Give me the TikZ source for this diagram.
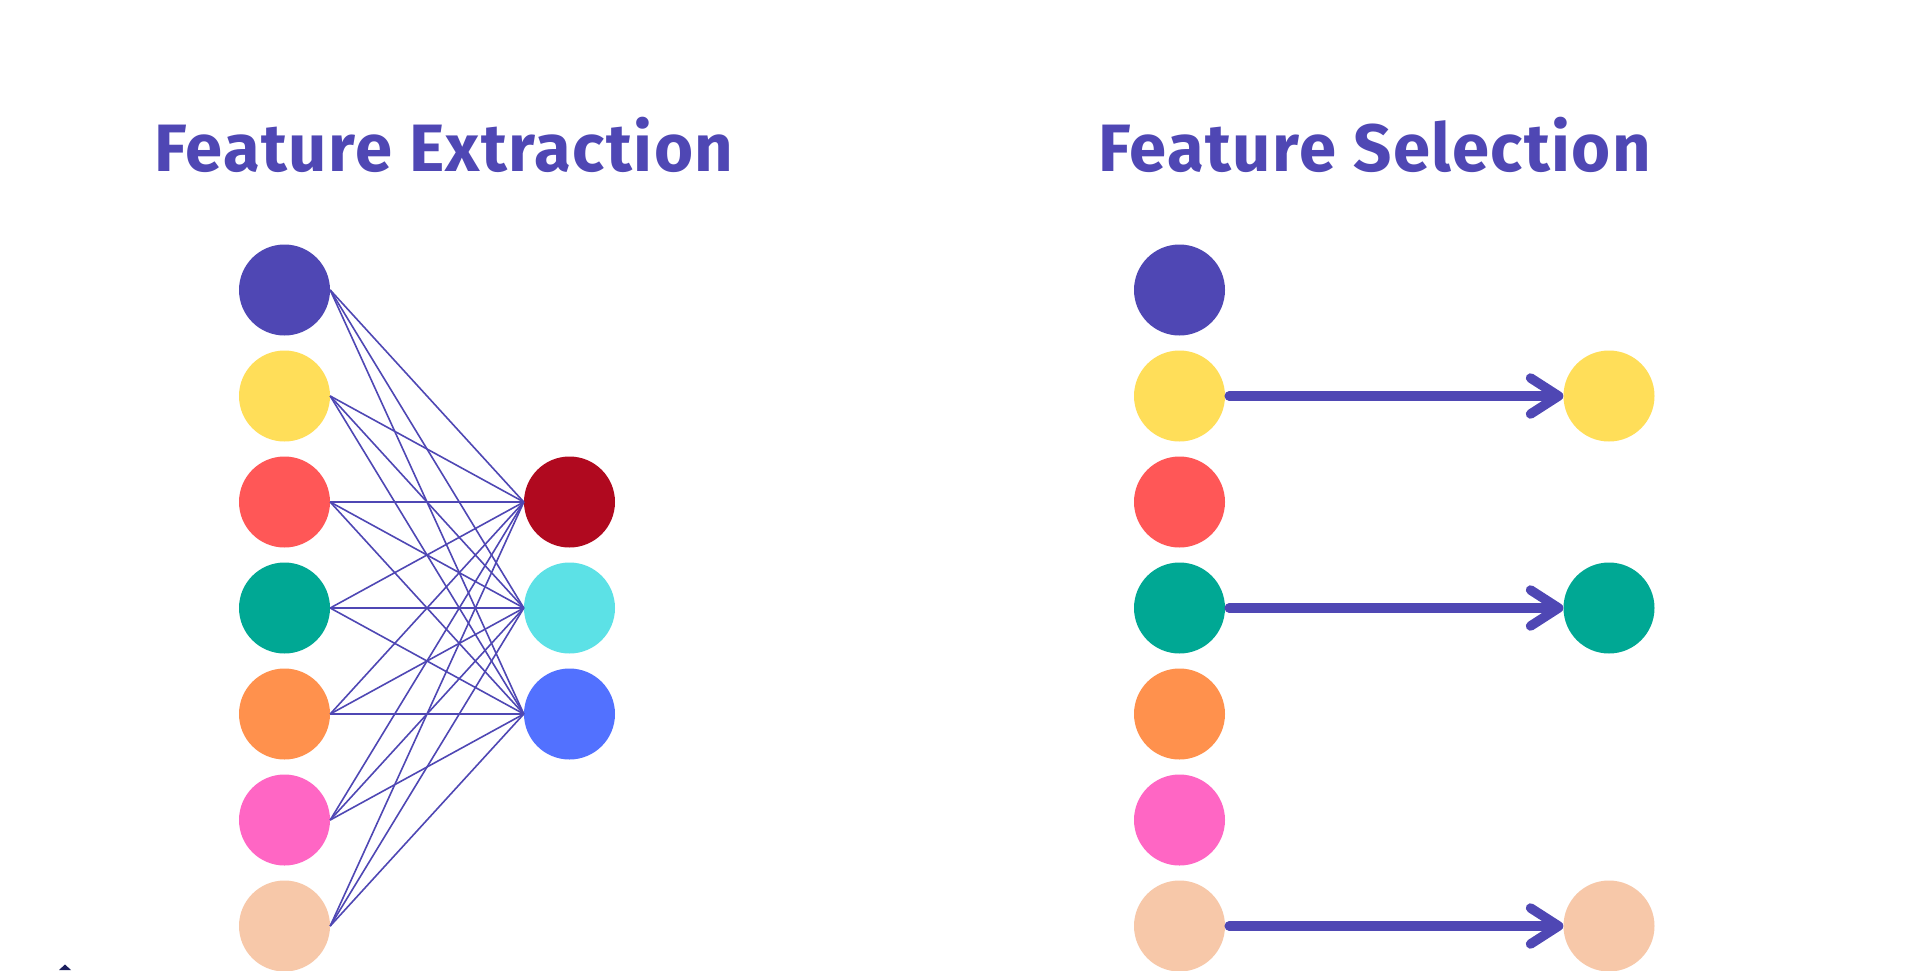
\documentclass[tikz,border=0pt]{standalone}
\usepackage{fontspec}
\setmainfont{Fira Sans}[LetterSpace=2.1]
\usetikzlibrary{arrows.meta}
\definecolor{purp}{HTML}{4F47B4}
\definecolor{cyel}{HTML}{FFDE59}
\definecolor{cred}{HTML}{FF5757}
\definecolor{cteal}{HTML}{00A894}
\definecolor{corange}{HTML}{FF914D}
\definecolor{cpink}{HTML}{FF66C4}
\definecolor{cpeach}{HTML}{F7C8A9}
\definecolor{cdred}{HTML}{B0091F}
\definecolor{ccyan}{HTML}{5CE1E6}
\definecolor{cblue}{HTML}{5271FF}
\definecolor{navy}{HTML}{1B1F5E}
\tikzset{
  dot/.style={circle, minimum size=91pt, inner sep=0pt, fill=#1},
  ttl/.style={anchor=base west, inner sep=0pt, text=purp, font=\fontsize{67}{67}\selectfont\bfseries},
  wire/.style={draw=purp, line width=1.6pt},
  selarrow/.style={draw=purp, line width=9.5pt, line cap=round,
    -{Straight Barb[length=28pt, width=36pt, line cap=round, line join=round]}}
}
\begin{document}
\begin{tikzpicture}[x=1pt,y=-1pt]
\useasboundingbox (0,0) rectangle (1920,970);
\fill[white] (0,0) rectangle (1920,970);
% titles
\node[ttl] (t1) at (154,171) {Feature Extraction};
\node[ttl] (t2) at (1098,171) {Feature Selection};
% extraction inputs
\foreach \i/\c/\y in {1/purp/290,2/cyel/396,3/cred/502,4/cteal/608,5/corange/714,6/cpink/820,7/cpeach/926}{
  \node[dot=\c] (L\i) at (284.5,\y) {};
}
\node[dot=cdred] (R1) at (569.5,502) {};
\node[dot=ccyan] (R2) at (569.5,608) {};
\node[dot=cblue] (R3) at (569.5,714) {};
\foreach \i in {1,...,7}{
  \foreach \j in {1,2,3}{
    \draw[wire] (L\i.east) -- (R\j.west);
  }
}
% selection
\foreach \i/\c/\y in {1/purp/290,2/cyel/396,3/cred/502,4/cteal/608,5/corange/714,6/cpink/820,7/cpeach/926}{
  \node[dot=\c] (S\i) at (1179.5,\y) {};
}
\node[dot=cyel] (P1) at (1609,396) {};
\node[dot=cteal] (P2) at (1609,608) {};
\node[dot=cpeach] (P3) at (1609,926) {};
\draw[selarrow] ([xshift=4pt]S2.east) -- (P1.west);
\draw[selarrow] ([xshift=4pt]S4.east) -- (P2.west);
\draw[selarrow] ([xshift=4pt]S7.east) -- (P3.west);
% small mark at bottom left
\fill[navy] (59,970) -- (65,964.5) -- (71,970) -- cycle;
\end{tikzpicture}
\end{document}
